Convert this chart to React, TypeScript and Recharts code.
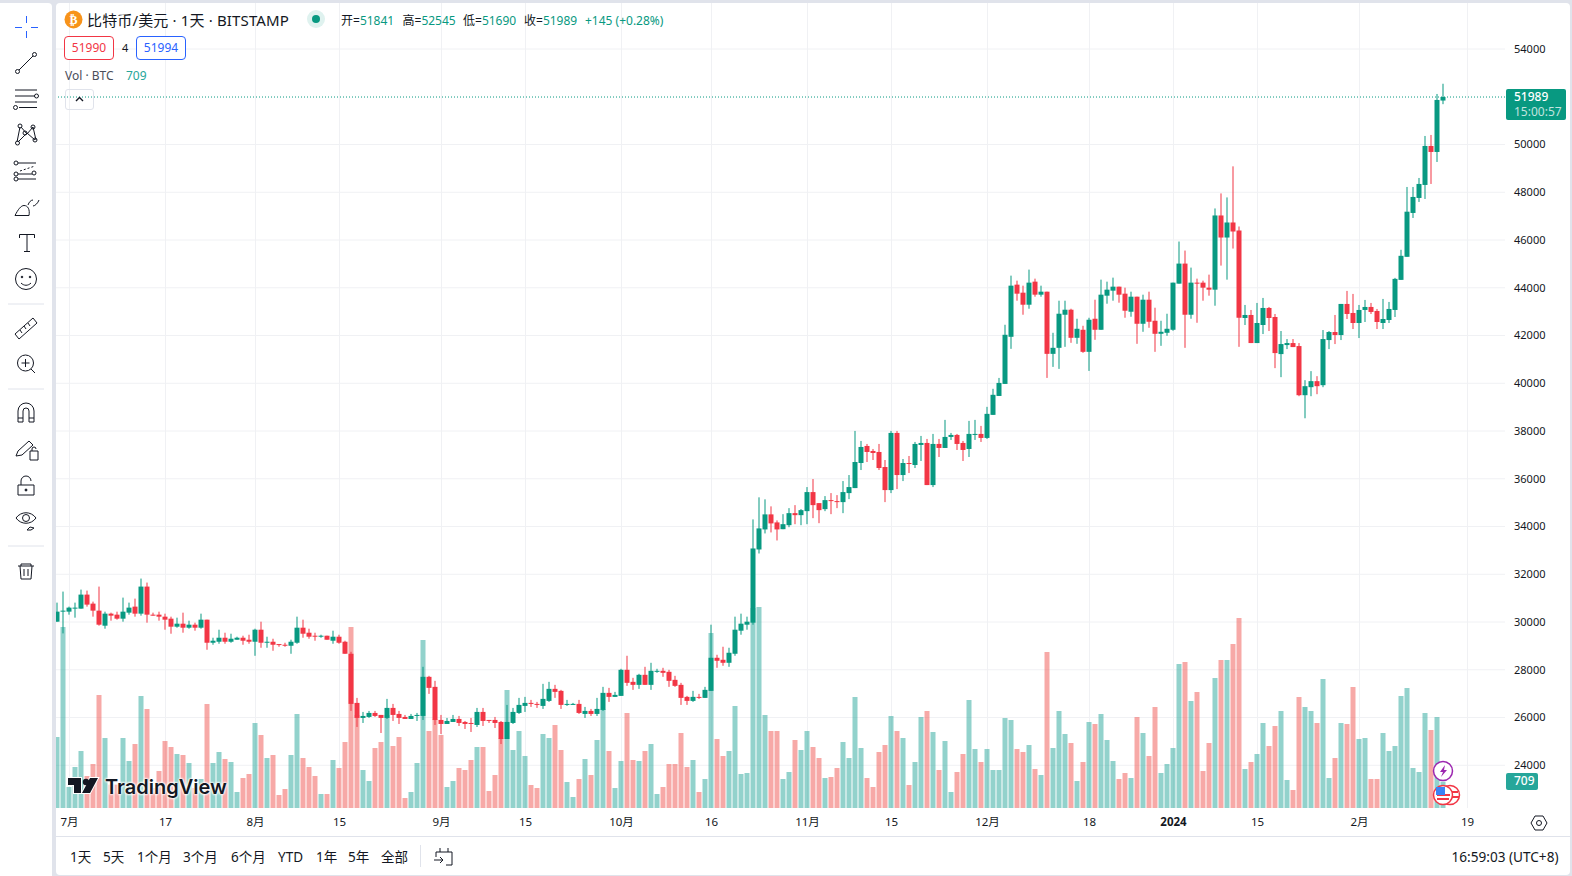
import React from 'react';
import { ComposedChart, Bar, Cell, XAxis, YAxis, CartesianGrid, ReferenceLine } from 'recharts';

// daily BTC/USD, 29 Jun 2023 - 15 Feb 2024
const opens = [
  30014,30434,30434,30560,30560,31148,30770,30476,29846,30350,
  30308,30140,30392,30644,30350,31484,30308,30308,30224,30140,
  29804,29930,29762,29888,29762,30098,29132,29174,29342,29174,
  29258,29342,29258,29174,29678,29146,29174,29076,29048,29006,
  29132,29762,29552,29426,29384,29426,29216,29384,29174,28670,
  26612,25982,26024,26192,26108,25982,26402,26150,26024,25940,
  26066,26066,27704,27284,25898,25730,25814,25940,25814,25772,
  25688,26234,25898,25898,25814,25100,25772,26192,26486,26612,
  26570,26486,26696,27200,27116,26528,26528,26570,26150,26276,
  26150,26318,27032,26864,26906,27998,27494,27368,27788,27368,
  27914,27956,27914,27578,27368,26864,26696,26864,26822,27116,
  28502,28418,28292,28670,29636,29888,29972,33038,33878,34508,
  34172,33888,34056,34560,34476,34644,35442,34980,34728,35106,
  35064,35022,35400,35610,36660,37374,37164,37122,36492,35526,
  37920,36156,36660,36576,37416,37500,35736,37458,37290,37752,
  37836,37500,37248,37836,37878,37710,38676,39468,39972,41946,
  44130,43794,43290,44256,43710,43836,41232,41484,42870,43080,
  41904,42240,41316,42702,42240,43668,43878,44046,43752,42996,
  43626,42492,43500,42618,42072,42114,42240,44172,45012,42870,
  44214,44214,44004,43920,47028,46104,46734,46398,42734,42860,
  41684,42440,43154,42776,41222,41600,41684,41558,39500,39836,
  40088,39920,41810,42146,42020,43322,42944,42524,43070,43196,
  43028,42524,42650,43070,44330,45296,47133,47761,48306,49939,
  49688,51841,
];
const highs = [
  30812,31274,30644,30812,31358,31316,30854,31484,30434,30392,
  30434,31022,30812,30980,31820,31652,30392,30434,30350,30224,
  30182,30392,30056,29972,30350,30098,29342,29678,29552,29510,
  29384,29426,29468,29720,30014,29384,29300,29076,29132,29258,
  30224,30098,29720,29552,29468,29426,29636,29468,29216,28754,
  26822,26234,26276,26276,26108,26780,26570,26276,26108,26150,
  26192,28124,27746,27536,26108,25982,26108,26066,25856,25982,
  26402,26402,25898,26024,25856,26528,26402,26822,26864,26738,
  26654,27410,27494,27368,27158,26738,26612,26738,26444,26360,
  26822,27284,27242,27074,28040,28586,27662,27830,28124,28292,
  28040,28082,27998,27746,27452,26906,27116,26990,27284,29888,
  28628,28964,28922,30224,30350,30224,34298,35222,35138,34844,
  34256,34518,34770,34896,34728,35652,35988,34980,35274,35400,
  35316,35904,36156,38004,37584,37458,37248,37458,36786,38004,
  38004,36828,36954,37542,37794,37668,37878,37668,38466,37920,
  37878,37584,38424,38466,38214,39012,39768,40224,42450,44508,
  44298,44088,44760,44382,44088,43836,42114,43458,43458,43122,
  42702,42408,42744,43500,44340,44256,44424,44046,44004,43836,
  43626,43710,43836,43164,42618,42912,44214,45936,45558,44844,
  44382,44298,44550,47322,47952,47784,49086,46566,43280,43070,
  43364,43574,43196,42902,42188,41852,41852,41684,40130,40508,
  40298,42230,42188,42860,43322,43868,43742,43280,43490,43364,
  43112,43532,43406,44414,45590,48222,48222,48599,50358,50400,
  52117,52545,
];
const lows = [
  30014,29524,30308,30182,30560,30644,30224,29846,29720,30056,
  30098,30014,30308,30224,30266,29972,30266,30056,29678,29510,
  29762,29552,29720,29636,29720,28838,29048,29090,29090,29132,
  29258,29048,29090,28586,28922,28922,28796,28964,28964,28670,
  29090,29342,29300,29216,29342,29258,29090,29090,28670,26276,
  25604,25772,25982,26024,25352,25940,25856,25730,25940,25940,
  25856,25898,26990,25688,25310,25730,25814,25646,25520,25394,
  25604,25646,25772,25562,24890,25100,25730,26150,26234,26444,
  26402,26360,26654,26822,26360,26486,26528,26150,25982,26066,
  26066,26276,26654,26864,26906,27326,27158,27200,27368,27158,
  27872,27704,27284,27284,26528,26528,26654,26780,26822,27116,
  28082,28166,28124,28586,29468,29678,29888,32870,33710,33752,
  33416,33888,33972,34098,34056,34098,34350,34140,34644,34518,
  34770,34560,35148,35610,36366,36702,36786,36366,35022,35400,
  35568,35904,36240,36450,36744,35736,35652,36912,37290,37626,
  37206,36744,36912,37626,37542,37668,38676,39468,39972,41442,
  43458,42870,43122,43626,43626,40224,40686,40602,41526,41694,
  41652,41274,40518,41820,42240,43332,43458,43374,42744,42786,
  41652,42156,42324,41316,41568,41988,42198,44172,41484,42702,
  42534,43458,43668,43248,44928,44340,45642,41526,42440,41684,
  41684,42062,42188,40634,40256,41432,41516,39458,38534,39458,
  39542,39836,41432,41642,41810,42692,42272,41894,42566,42902,
  42272,42272,42524,42776,44330,45296,46924,47594,47719,48348,
  49269,51690,
];
const closes = [
  30434,30476,30602,30602,31148,30728,30476,29888,30350,30266,
  30140,30434,30602,30350,31484,30308,30266,30224,30098,29804,
  29930,29762,29888,29762,30098,29132,29216,29342,29174,29300,
  29342,29216,29174,29678,29132,29174,29048,29048,29006,29174,
  29762,29510,29384,29384,29426,29258,29384,29132,28670,26570,
  25982,26066,26192,26066,25982,26402,26108,25982,25940,26066,
  26108,27704,27242,25898,25730,25856,25940,25772,25730,25744,
  26234,25856,25856,25772,25100,25814,26234,26528,26612,26570,
  26528,26780,27200,27074,26528,26570,26570,26192,26276,26150,
  26360,27032,26864,26948,27998,27452,27368,27788,27368,27956,
  27956,27872,27536,27326,26822,26696,26864,26822,27158,28502,
  28376,28292,28712,29678,29930,30014,33080,33920,34508,34130,
  33878,34098,34560,34476,34686,35442,34896,34686,35106,35064,
  35022,35442,35652,36702,37332,37122,37080,36450,35526,37920,
  36156,36660,36618,37458,37500,35736,37458,37290,37752,37836,
  37458,37206,37878,37878,37710,38718,39516,40014,42030,44088,
  43752,43290,44214,43710,43836,41232,41484,42912,43080,41904,
  42282,41316,42660,42240,43710,43920,44046,43710,43038,43626,
  42492,43500,42576,42072,42156,42282,44214,45012,42870,44214,
  44172,44004,43920,47028,46104,46734,46356,42744,42860,41684,
  42524,43154,42734,41264,41642,41684,41516,39500,39878,40088,
  39878,41852,42146,42020,43322,42902,42524,43070,43196,42986,
  42566,42692,43112,44372,45338,47186,47803,48348,49939,49688,
  51866,51989,
];
const volumes = [
  1917,4887,567,1107,1539,864,1188,3051,1890,630,
  630,1890,1269,1728,3024,2673,540,999,1809,1647,
  1458,1431,1215,540,783,2808,1215,1512,1323,1242,
  432,810,918,2295,1971,1350,1431,351,513,1431,
  2538,1350,1107,864,378,378,1296,1080,1782,4887,
  2511,1026,729,1620,1782,2511,1674,1917,270,432,
  1215,4536,2079,2403,1971,567,729,1080,1026,1296,
  1647,1647,459,891,1881,3186,1566,2079,1404,621,
  540,1998,1890,2241,1566,702,297,783,1323,891,
  1836,2673,1539,540,1269,2565,1296,1269,1539,1728,
  378,567,1188,1188,2025,1107,1296,432,783,4725,
  1863,1404,1539,2754,918,945,5400,5427,2511,2079,
  2079,783,972,1836,1566,2079,1647,1350,810,837,
  1080,1782,1350,2997,1620,810,567,1512,1701,2484,
  2079,1890,621,1242,2457,2619,2052,1026,1809,432,
  972,1458,2916,1593,1242,1593,1026,1026,2430,2376,
  1593,1512,1701,1053,891,4212,1620,2619,1998,1755,
  729,1242,2322,2268,2538,1836,1269,783,945,810,
  2457,2025,1404,2727,945,1188,1620,3888,3942,2889,
  3132,999,1755,3510,3996,3996,4428,5130,1053,1242,
  1458,2295,1674,2214,2619,756,486,2997,2727,2619,
  2295,3483,810,1350,2295,2268,3267,1863,1890,783,
  783,2025,1539,1674,3024,3240,1080,972,2565,2106,
  2457,709,
];

const dayTicks = [2, 18, 33, 47, 64, 78, 94, 109, 125, 139, 155, 172, 186, 200, 217, 235];
const dayLabels = ['7月', '17', '8月', '15', '9月', '15', '10月', '16', '11月', '15', '12月', '18', '2024', '15', '2月', '19'];
const priceTicks = [24000, 26000, 28000, 30000, 32000, 34000, 36000, 38000, 40000, 42000, 44000, 46000, 48000, 50000, 54000];
const rangeButtons = ['1天', '5天', '1个月', '3个月', '6个月', 'YTD', '1年', '5年', '全部'];
const rangeButtonX = [70, 103, 137, 183, 231, 278, 316, 348, 381];
const lastPrice = 51989;

const candles = opens.map((open, i) => ({
  day: i,
  open,
  close: closes[i],
  range: [lows[i], highs[i]],
  volume: volumes[i],
}));

const UP = '#089981';
const DOWN = '#F23645';
const FONT = "'Noto Sans','Noto Sans CJK SC',sans-serif";
const INK = '#131722';

const Candle: React.FC<any> = ({ x, y, width, height, payload }) => {
  const [low, high] = payload.range;
  const pxPerPrice = height / (high - low);
  const color = payload.close >= payload.open ? UP : DOWN;
  const top = y + (high - Math.max(payload.open, payload.close)) * pxPerPrice;
  const bottom = y + (high - Math.min(payload.open, payload.close)) * pxPerPrice;
  return (
    <g>
      <rect x={x + width / 2 - 0.5} y={y} width={1} height={height} fill={color} />
      <rect x={x} y={top} width={width} height={Math.max(bottom - top, 1)} fill={color} />
    </g>
  );
};

const DayTick: React.FC<any> = ({ x, y, payload }) => {
  const label = dayLabels[dayTicks.indexOf(payload.value)];
  return (
    <text x={x} y={y - 4} textAnchor="middle" dominantBaseline="middle" fontSize={11.5} fontFamily={FONT} fill={INK}
      fontWeight={label === '2024' ? 700 : 400}>
      {label}
    </text>
  );
};

const txt = (x: number, y: number, size: number, color = INK, extra: React.CSSProperties = {}): React.CSSProperties => ({
  position: 'absolute', left: x, top: y, fontSize: size, lineHeight: '16px', color, fontFamily: FONT, whiteSpace: 'nowrap', ...extra,
});

const ToolIcons = () => (
  <svg width={56} height={876} style={{ position: 'absolute', left: 0, top: 0 }} fill="none" stroke={INK} strokeWidth={1}>
    <path d="M26.5 16v7M26.5 31v7M15 27.5h7M31 27.5h7" stroke="#2962FF" />
    <circle cx={17.5} cy={71.5} r={2} /><circle cx={34.5} cy={54.5} r={2} /><path d="M19 70l14-14" />
    <path d="M15 90h22M15 96h20M15 102h22M19 107.5h18" /><circle cx={36.5} cy={96} r={2} /><circle cx={15.5} cy={107.5} r={2} />
    <path d="M20 127l-3 15M21 127l6 7 6-7 3 13M18 142l9-9 8 7" />
    <circle cx={20} cy={126} r={2} /><circle cx={33} cy={127} r={2} /><circle cx={25} cy={133} r={2} /><circle cx={17.5} cy={143} r={2} /><circle cx={35} cy={140} r={2} />
    <path d="M18 163h18M18 174h14M18 179h18" /><path d="M20 171l15-5" strokeDasharray="2 2" />
    <circle cx={16} cy={163} r={2} /><circle cx={16} cy={174} r={2} /><circle cx={34} cy={173} r={2} /><circle cx={16} cy={179} r={2} />
    <path d="M15 215.5h14c1-6-1-10-5-10-3 0-6 4-9 10zM28 205c1-3 3-5 5-5M33 206c2 0 5-3 6-6" />
    <path d="M19.5 238v-3.5h15v3.5M27 234.5v17M24 251.5h6" />
    <g transform="translate(0 1)">
      <circle cx={26} cy={278} r={10.5} /><circle cx={22} cy={276} r={0.8} fill={INK} /><circle cx={30} cy={276} r={0.8} fill={INK} /><path d="M21 282c3 3 7 3 10 0" />
      <path d="M8 303h36M8 388h36M8 545h36" stroke="#E0E3EB" />
      <path d="M15 333l18-16 4 5-18 16zM20 329l2 3M24 325l2 3M28 322l2 3" />
      <circle cx={25.5} cy={362} r={8} /><path d="M25.5 358v8M21.5 362h8M31 368l4 4" />
      <path d="M18 421v-11a8 8 0 0 1 16 0v11h-5v-11a3 3 0 0 0-6 0v11zM18 417h5M29 417h5" />
      <path d="M16 455l2-5 11-10 4 4-11 10zM30 450h8v9h-8zM32 450v-2a2 2 0 0 1 4 0" />
      <path d="M18 484h16v10h-16zM21 484v-4a5 5 0 0 1 10 0" /><circle cx={26} cy={489} r={1} fill={INK} />
      <path d="M16 517c5-7 15-7 20 0-5 7-15 7-20 0z" /><circle cx={26} cy={517} r={3.5} /><path d="M27 529l3-3 4 1-3 2z" />
      <path d="M18 565h16M21 565v-2h10v2M20 565l1 13h10l1-13M24 568v7M28 568v7" />
    </g>
  </svg>
);

const App: React.FC = () => {
  return (
    <div style={{ position: 'fixed', left: 0, top: 0, width: 1572, height: 876, background: '#E0E3EB', overflow: 'hidden' }}>
      <div style={{ position: 'absolute', left: 56, top: 3, width: 1514, height: 872, background: '#fff', borderRadius: 4 }} />

      <ComposedChart width={1572} height={876} data={candles} barGap={-5} margin={{ top: 3, right: 2, bottom: 40, left: 56 }} style={{ position: 'absolute', left: 0, top: 0 }}>
        <CartesianGrid stroke="#F0F1F4" yAxisId="price" horizontalValues={priceTicks} verticalValues={dayTicks} />
        <XAxis dataKey="day" type="number" domain={[-0.25, 241.25]} allowDataOverflow ticks={dayTicks} interval={0}
          height={28} tickLine={false} axisLine={false} tick={<DayTick />} tickMargin={13} />
        <YAxis yAxisId="price" orientation="right" type="number" domain={[22210, 55927]} allowDataOverflow ticks={priceTicks} interval={0}
          width={65} tickLine={false} axisLine={false} tickMargin={3}
          tick={{ fontSize: 11, fontFamily: FONT, fill: INK, textAnchor: 'start' }} />
        <YAxis yAxisId="vol" hide type="number" domain={[0, 21735]} allowDataOverflow />
        <Bar dataKey="volume" yAxisId="vol" barSize={5} isAnimationActive={false}>
          {candles.map((c, i) => (
            <Cell key={`vol-${i}`} fill={c.close >= c.open ? 'rgba(38,166,154,0.5)' : 'rgba(239,83,80,0.5)'} />
          ))}
        </Bar>
        <Bar dataKey="range" yAxisId="price" barSize={5} isAnimationActive={false} shape={<Candle />} />
        <ReferenceLine yAxisId="price" y={lastPrice} stroke={UP} strokeDasharray="1 2" />
      </ComposedChart>

      {/* left toolbar */}
      <div style={{ position: 'absolute', left: 52, top: 0, width: 4, height: 876, background: '#E0E3EB' }} />
      <div style={{ position: 'absolute', left: 0, top: 3, width: 52, height: 873, background: '#fff', borderTopRightRadius: 4 }} />
      <ToolIcons />

      {/* legend */}
      <svg width={20} height={20} style={{ position: 'absolute', left: 64, top: 10 }}>
        <circle cx={9.5} cy={9.5} r={9} fill="#F7931A" />
        <text x={9.5} y={14} textAnchor="middle" fontSize={12} fontWeight={700} fill="#fff" fontFamily="DejaVu Sans">₿</text>
      </svg>
      <div style={txt(87, 12, 15, INK, { letterSpacing: 0.15 })}>比特币/美元 · 1天 · BITSTAMP</div>
      <svg width={20} height={20} style={{ position: 'absolute', left: 306, top: 9 }}>
        <circle cx={10} cy={10} r={9} fill="#DFF2EF" /><circle cx={10} cy={10} r={4} fill={UP} />
      </svg>
      {[['开', 341, '51841'], ['高', 402.5, '52545'], ['低', 463, '51690'], ['收', 524, '51989']].map(([k, x, v]) => (
        <div key={k as string} style={txt(x as number, 13, 12)}>{k}=<span style={{ color: UP }}>{v}</span></div>
      ))}
      <div style={txt(585, 13, 12, UP)}>+145 (+0.28%)</div>
      <div style={{ ...txt(64, 36, 12, DOWN), width: 48, height: 22, border: `1px solid ${DOWN}`, borderRadius: 4, textAlign: 'center', lineHeight: '22px', background: '#fff' }}>51990</div>
      <div style={txt(122, 40, 11)}>4</div>
      <div style={{ ...txt(136, 36, 12, '#2962FF'), width: 48, height: 22, border: '1px solid #2962FF', borderRadius: 4, textAlign: 'center', lineHeight: '22px', background: '#fff' }}>51994</div>
      <div style={txt(65, 68, 12, '#4A4E5A')}>Vol · BTC</div>
      <div style={txt(126, 68, 12, '#26A69A')}>709</div>
      <div style={{ position: 'absolute', left: 65, top: 89, width: 27, height: 19, border: '1px solid #E0E3EB', borderRadius: 3 }}>
        <svg width={27} height={19}><path d="M10 11l3.5-3.5 3.5 3.5" fill="none" stroke={INK} strokeWidth={1.4} /></svg>
      </div>

      {/* last price + volume labels */}
      <div style={{ position: 'absolute', left: 1506, top: 89, width: 60, height: 31, background: UP, borderRadius: 2 }}>
        <div style={txt(8, 0, 12, '#fff', { fontWeight: 500 })}>51989</div>
        <div style={txt(8, 15, 12, 'rgba(255,255,255,0.75)')}>15:00:57</div>
      </div>
      <div style={{ position: 'absolute', left: 1506, top: 773, width: 32, height: 17, background: '#26A69A', borderRadius: 2 }}>
        <div style={txt(8, 0, 12, '#fff', { fontWeight: 500 })}>709</div>
      </div>

      {/* watermark */}
      <svg width={38} height={20} style={{ position: 'absolute', left: 66, top: 776 }}>
        <path d="M2 2h13v15H8V9H2zM32 2l-8 15h-8L24 2z" fill={INK} stroke="#fff" strokeWidth={2} paintOrder="stroke" /><circle cx={20} cy={6} r={3.2} fill={INK} />
      </svg>
      <div style={{ ...txt(105, 777, 20, INK, { fontFamily: 'Inter', fontWeight: 600, lineHeight: '20px' }), textShadow: '0 0 2px #fff,0 0 2px #fff,0 0 3px #fff,0 0 3px #fff' }}>TradingView</div>

      {/* events */}
      <svg width={40} height={50} style={{ position: 'absolute', left: 1430, top: 759 }}>
        <circle cx={13} cy={12} r={9.5} fill="#fff" stroke="#9C27B0" strokeWidth={1.5} />
        <path d="M15 6l-5 7h3l-2 5 6-7h-3z" fill="#9C27B0" />
        <circle cx={20} cy={36} r={9.5} fill="#fff" stroke={DOWN} strokeWidth={1.5} />
        <path d="M14 33h14M13 38h16" stroke={DOWN} strokeWidth={2} />
        <circle cx={13} cy={36} r={9.5} fill="#fff" stroke={DOWN} strokeWidth={1.5} />
        <path d="M7 36h13M7 40h12" stroke={DOWN} strokeWidth={2} />
        <path d="M6 28h9v8H6z" fill="#3B82F6" />
      </svg>

      {/* bottom bar */}
      <div style={{ position: 'absolute', left: 56, top: 836, width: 1514, height: 1, background: '#E0E3EB' }} />
      {rangeButtons.map((b, i) => (
        <div key={b} style={txt(rangeButtonX[i], 848.5, 13.5)}>{b}</div>
      ))}
      <div style={{ position: 'absolute', left: 420, top: 845, width: 1, height: 22, background: '#E0E3EB' }} />
      <svg width={22} height={22} style={{ position: 'absolute', left: 432, top: 844.5 }} fill="none" stroke={INK}>
        <path d="M4 7h16v13h-6M4 7v5M8 3v4M16 3v4M2 15h9M8 12l3 3-3 3" />
      </svg>
      <div style={txt(1451.5, 849, 13.6)}>16:59:03 (UTC+8)</div>
      <svg width={22} height={22} style={{ position: 'absolute', left: 1528, top: 812 }} fill="none" stroke={INK}>
        <path d="M7 4h8l4 7-4 7H7l-4-7z" /><circle cx={11} cy={11} r={2.5} />
      </svg>
    </div>
  );
};

export default App;
